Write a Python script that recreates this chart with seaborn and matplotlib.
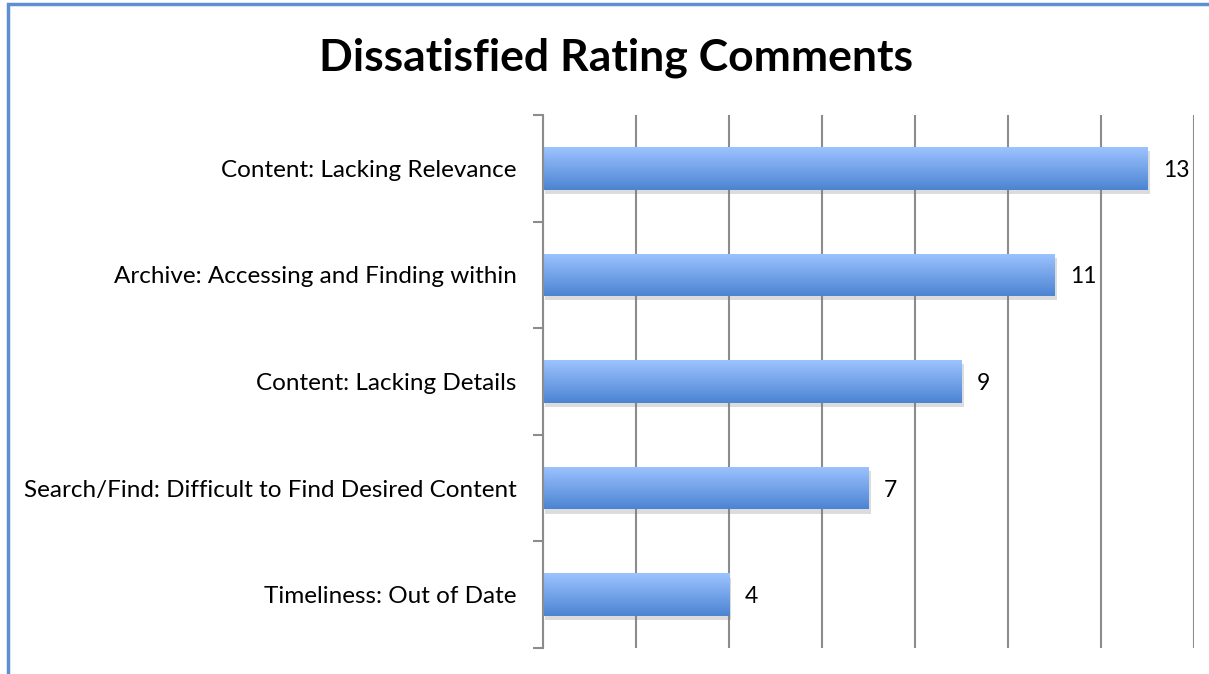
import matplotlib
matplotlib.use('Agg')
import matplotlib.pyplot as plt
import matplotlib.patheffects as pe
from matplotlib.colors import LinearSegmentedColormap
from matplotlib.patches import Rectangle
import seaborn as sns
import numpy as np
import pandas as pd

categories = ['Content: Lacking Relevance',
              'Archive: Accessing and Finding within',
              'Content: Lacking Details',
              'Search/Find: Difficult to Find Desired Content',
              'Timeliness: Out of Date']
counts = [13, 11, 9, 7, 4]
x_ticks = [0, 2, 4, 6, 8, 10, 12, 14]

sns.set_theme(style='white')
plt.rcParams['font.family'] = ['Lato', 'DejaVu Sans']

df = pd.DataFrame({'category': categories, 'count': counts})

fig = plt.figure(figsize=(12.09, 6.74), dpi=100)
ax = fig.add_axes([0.4491, 0.0386, 0.5385, 0.7908])

sns.barplot(data=df, x='count', y='category', orient='h', width=0.4,
            color='#6E9FE6', ax=ax, zorder=2, linewidth=0)

# gradient fill + soft shadow on each bar
grad = LinearSegmentedColormap.from_list('bar', ['#9CC3FF', '#4C84D2'])
for bar in ax.patches:
    bar.set_path_effects([pe.SimplePatchShadow(offset=(1.5, -3), shadow_rgbFace='#777777', alpha=0.25),
                          pe.Normal()])
    x0, y0 = bar.get_x(), bar.get_y()
    w, h = bar.get_width(), bar.get_height()
    img = ax.imshow(np.linspace(0, 1, 64).reshape(-1, 1), cmap=grad, aspect='auto',
                    extent=[x0, x0 + w, y0 + h, y0], zorder=2.5, interpolation='bicubic')
    img.set_clip_path(bar)

for bar, v in zip(ax.patches, counts):
    ax.text(v + 0.33, bar.get_y() + bar.get_height() / 2, str(v), va='center_baseline', ha='left',
            fontsize=16.5, color='black')

ax.set_xlim(0, 14)
ax.set_ylim(4.5, -0.5)
ax.set_xticks(x_ticks)
ax.tick_params(axis='x', length=0, labelbottom=False)
ax.xaxis.grid(True, color='#8C8C8C', linewidth=1.5)
ax.set_axisbelow(True)

ax.set_yticks(np.arange(-0.5, 5.0, 1.0), minor=True)
ax.tick_params(axis='y', which='minor', length=7, width=1.5, color='#8C8C8C', left=True)
ax.tick_params(axis='y', which='major', length=0, pad=19, labelsize=17.5, labelcolor='black')
ax.set_xlabel('')
ax.set_ylabel('')

for s in ['top', 'right', 'bottom']:
    ax.spines[s].set_visible(False)
ax.spines['left'].set_color('#8C8C8C')
ax.spines['left'].set_linewidth(1.5)

fig.text(0.5095, 0.915, 'Dissatisfied Rating Comments', ha='center', va='center',
         fontsize=32, fontweight='bold', color='black')

# chart frame (cropped on right and bottom)
fig.patches.append(Rectangle((8 / 1209, -0.05), 1.2, 1.05 - 4 / 674, transform=fig.transFigure,
                             fill=False, edgecolor='#5F8FD3', linewidth=2.5))

fig.savefig('out.png', dpi=100)
